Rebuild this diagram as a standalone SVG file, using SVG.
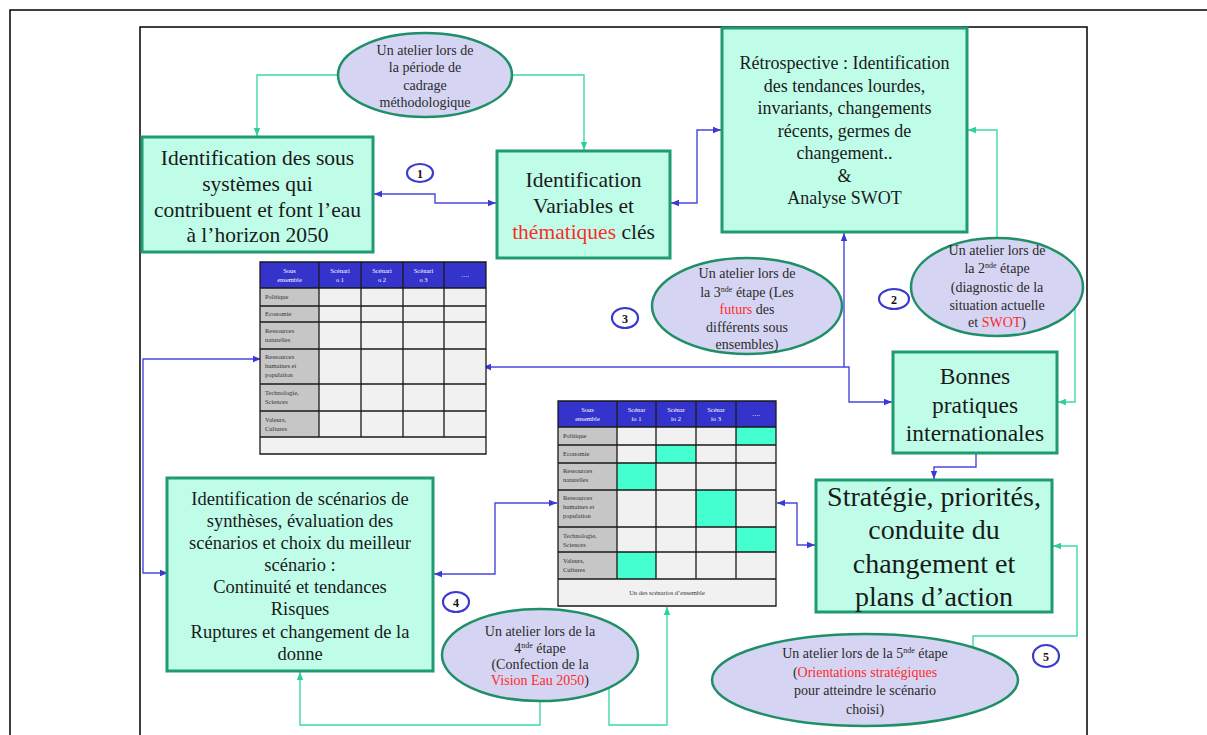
<svg xmlns="http://www.w3.org/2000/svg" width="1207" height="735" viewBox="0 0 1207 735">
  <style>
    .frame { fill: none; stroke: #000; stroke-width: 1.5; }
    .box { fill: #c0fde9; stroke: #1f9a72; stroke-width: 3; }
    .ell { fill: #d5d5f3; stroke: #1f8f68; stroke-width: 2.5; }
    .num { fill: #fff; stroke: #3a3ad0; stroke-width: 2.2; }
    .numt { font-family: "Liberation Serif", serif; font-size: 12px; font-weight: bold; fill: #111; text-anchor: middle; }
    .t { fill: none; stroke: #3fd9aa; stroke-width: 1.4; }
    .b { fill: none; stroke: #4848dd; stroke-width: 1.4; }
    .tx { font-family: "Liberation Serif", serif; fill: #1a1a1a; text-anchor: middle; }
    .et { font-family: "Liberation Serif", serif; fill: #2a2a2a; text-anchor: middle; font-size: 14px; }
    .red { fill: #ff2a2a; }
    .hd { fill: #3434cc; }
    .lab { fill: #c6c6c6; }
    .cell { fill: #f1f1f1; }
    .hi { fill: #44ffcf; }
    .grid { fill: none; stroke: #1a1a1a; stroke-width: 1.3; }
    .ht { font-family: "Liberation Serif", serif; font-size: 6.5px; fill: #fff; text-anchor: middle; }
    .rt { font-family: "Liberation Serif", serif; font-size: 6.5px; fill: #333; }
  </style>
  <defs>
    <marker id="ab" viewBox="0 0 10 10" refX="10" refY="5" markerWidth="8" markerHeight="8" markerUnits="userSpaceOnUse" orient="auto-start-reverse">
      <path d="M0,1 L10,5 L0,9 z" fill="#3a3ad0"/>
    </marker>
    <marker id="at" viewBox="0 0 10 10" refX="10" refY="5" markerWidth="8" markerHeight="8" markerUnits="userSpaceOnUse" orient="auto-start-reverse">
      <path d="M0,1 L10,5 L0,9 z" fill="#2fcf9c"/>
    </marker>
  </defs>

  <rect width="1207" height="735" fill="#fff"/>
  <!-- page frames -->
  <path class="frame" d="M10,740 V10 H1210"/>
  <path class="frame" d="M140,740 V27 H1087 V740"/>

  <!-- connectors -->
  <g id="connectors">
    <path class="t" d="M338,75 H257 V136" marker-end="url(#at)"/>
    <path class="t" d="M513,75 H584 V150" marker-end="url(#at)"/>
    <path class="t" d="M997,238 V130 H968" marker-end="url(#at)"/>
    <path class="t" d="M1075,308 V402 H1058" marker-end="url(#at)"/>
    <path class="t" d="M540,701 V725 H300 V672" marker-end="url(#at)"/>
    <path class="t" d="M609,689 V725 H667 V607" marker-end="url(#at)"/>
    <path class="t" d="M973,647 V636 H1077 V546 H1053" marker-end="url(#at)"/>

    <path class="b" d="M374,194 H435 V203 H496" marker-start="url(#ab)" marker-end="url(#ab)"/>
    <path class="b" d="M671,203 H697 V130 H721" marker-start="url(#ab)" marker-end="url(#ab)"/>
    <path class="b" d="M844,233 V367 H483" marker-start="url(#ab)" marker-end="url(#ab)"/>
    <path class="b" d="M844,367 H849 V402 H892" marker-end="url(#ab)"/>
    <path class="b" d="M168,573 H143 V359 H261" marker-start="url(#ab)" marker-end="url(#ab)"/>
    <path class="b" d="M434,574 H495 V503 H557" marker-start="url(#ab)" marker-end="url(#ab)"/>
    <path class="b" d="M777,503 H797 V545 H815" marker-start="url(#ab)" marker-end="url(#ab)"/>
    <path class="b" d="M976,454 V467 H934 V479" marker-end="url(#ab)"/>
  </g>

  <!-- workshop 1 -->
  <g id="atelier1">
    <ellipse class="ell" cx="425" cy="75" rx="87" ry="42"/>
    <text class="et" x="425" y="55">Un atelier lors de</text>
    <text class="et" x="425" y="72">la période de</text>
    <text class="et" x="425" y="90">cadrage</text>
    <text class="et" x="425" y="107">méthodologique</text>
  </g>

  <g id="sous-systemes">
    <rect class="box" x="142" y="137" width="231" height="115"/>
    <text class="tx" font-size="21.5" x="257.5" y="165">Identification des sous</text>
    <text class="tx" font-size="21.5" x="257.5" y="191">systèmes qui</text>
    <text class="tx" font-size="21.5" x="257.5" y="217">contribuent et font l’eau</text>
    <text class="tx" font-size="21.5" x="257.5" y="242">à l’horizon 2050</text>
  </g>

  <g id="variables">
    <rect class="box" x="497" y="151" width="173" height="107"/>
    <text class="tx" font-size="21.5" x="583.5" y="187">Identification</text>
    <text class="tx" font-size="21.5" x="583.5" y="213">Variables et</text>
    <text class="tx" font-size="21.5" x="583.5" y="239"><tspan class="red">thématiques</tspan> clés</text>
  </g>

  <g id="retrospective">
    <rect class="box" x="722" y="28" width="245" height="204"/>
    <text class="tx" font-size="18" x="844.5" y="69">Rétrospective : Identification</text>
    <text class="tx" font-size="18" x="844.5" y="91.5">des tendances lourdes,</text>
    <text class="tx" font-size="18" x="844.5" y="114">invariants, changements</text>
    <text class="tx" font-size="18" x="844.5" y="136.5">récents, germes de</text>
    <text class="tx" font-size="18" x="844.5" y="159">changement..</text>
    <text class="tx" font-size="18" x="844.5" y="181.5">&amp;</text>
    <text class="tx" font-size="18" x="844.5" y="204">Analyse SWOT</text>
  </g>

  <!-- step markers -->
  <g id="n1"><ellipse class="num" cx="420" cy="173" rx="13" ry="9"/><text class="numt" x="420" y="177.5">1</text></g>
  <g id="n2"><ellipse class="num" cx="894" cy="299" rx="15" ry="10"/><text class="numt" x="894" y="303.5">2</text></g>
  <g id="n3"><ellipse class="num" cx="625" cy="318" rx="13" ry="10"/><text class="numt" x="625" y="322.5">3</text></g>
  <g id="n4"><ellipse class="num" cx="456" cy="602" rx="13" ry="10"/><text class="numt" x="456" y="606.5">4</text></g>
  <g id="n5"><ellipse class="num" cx="1046" cy="656" rx="13" ry="11"/><text class="numt" x="1046" y="660.5">5</text></g>

  <g id="atelier2">
    <ellipse class="ell" cx="997" cy="287" rx="86" ry="49"/>
    <text class="et" x="997" y="255">Un atelier lors de</text>
    <text class="et" x="997" y="273">la 2<tspan font-size="8" dy="-5">nde</tspan><tspan dy="5"> étape</tspan></text>
    <text class="et" x="997" y="292">(diagnostic  de la</text>
    <text class="et" x="997" y="310">situation actuelle</text>
    <text class="et" x="997" y="327">et <tspan class="red">SWOT</tspan>)</text>
  </g>

  <g id="atelier3">
    <ellipse class="ell" cx="747" cy="306" rx="95" ry="48"/>
    <text class="et" x="747" y="278">Un atelier lors de</text>
    <text class="et" x="747" y="297">la 3<tspan font-size="8" dy="-5">nde</tspan><tspan dy="5"> étape (Les</tspan></text>
    <text class="et" x="747" y="314"><tspan class="red">futurs</tspan> des</text>
    <text class="et" x="747" y="332">différents sous</text>
    <text class="et" x="747" y="349">ensembles)</text>
  </g>

  <g id="bonnes-pratiques">
    <rect class="box" x="893" y="352" width="164" height="101"/>
    <text class="tx" font-size="23.5" x="975" y="384">Bonnes</text>
    <text class="tx" font-size="23.5" x="975" y="413">pratiques</text>
    <text class="tx" font-size="23.5" x="975" y="441">internationales</text>
  </g>

  <!-- scenario grid per sub-system -->
  <g id="tableau-scenarios">
    <rect class="hd" x="260" y="262" width="226" height="26"/>
    <rect class="lab" x="260" y="288" width="59" height="149"/>
    <rect class="cell" x="319" y="288" width="167" height="149"/>
    <rect class="cell" x="260" y="437" width="226" height="17"/>
    <path class="grid" d="M260,262 H486 V454 H260 Z M260,288 H486 M260,306 H486 M260,322 H486 M260,349 H486 M260,384 H486 M260,411 H486 M260,437 H486 M319,262 V437 M361,262 V437 M403,262 V437 M444,262 V437"/>
    <text class="ht" x="289.5" y="273">Sous</text><text class="ht" x="289.5" y="282">ensemble</text>
    <text class="ht" x="340" y="273">Scénari</text><text class="ht" x="340" y="282">o 1</text>
    <text class="ht" x="382" y="273">Scénari</text><text class="ht" x="382" y="282">o 2</text>
    <text class="ht" x="423.5" y="273">Scénari</text><text class="ht" x="423.5" y="282">o 3</text>
    <text class="ht" x="465" y="277">….</text>
    <text class="rt" x="265" y="299">Politique</text>
    <text class="rt" x="265" y="316">Economie</text>
    <text class="rt" x="265" y="333">Ressources</text><text class="rt" x="265" y="342">naturelles</text>
    <text class="rt" x="265" y="359">Ressources</text><text class="rt" x="265" y="368">humaines et</text><text class="rt" x="265" y="377">population</text>
    <text class="rt" x="265" y="395">Technologie,</text><text class="rt" x="265" y="404">Sciences</text>
    <text class="rt" x="265" y="422">Valeurs,</text><text class="rt" x="265" y="431">Cultures</text>
  </g>

  <!-- one overall scenario -->
  <g id="scenario-ensemble">
    <rect class="hd" x="558" y="401" width="218" height="26"/>
    <rect class="lab" x="558" y="427" width="59" height="152"/>
    <rect class="cell" x="617" y="427" width="159" height="152"/>
    <rect class="cell" x="558" y="579" width="218" height="27"/>
    <rect class="hi" x="736" y="427" width="40" height="18"/>
    <rect class="hi" x="656" y="445" width="40" height="18"/>
    <rect class="hi" x="617" y="463" width="39" height="27"/>
    <rect class="hi" x="696" y="490" width="40" height="37"/>
    <rect class="hi" x="736" y="527" width="40" height="25"/>
    <rect class="hi" x="617" y="552" width="39" height="27"/>
    <path class="grid" d="M558,401 H776 V606 H558 Z M558,427 H776 M558,445 H776 M558,463 H776 M558,490 H776 M558,527 H776 M558,552 H776 M558,579 H776 M617,401 V579 M656,401 V579 M696,401 V579 M736,401 V579"/>
    <text class="ht" x="587.5" y="412">Sous</text><text class="ht" x="587.5" y="421">ensemble</text>
    <text class="ht" x="636.5" y="412">Scénar</text><text class="ht" x="636.5" y="421">io 1</text>
    <text class="ht" x="676" y="412">Scénar</text><text class="ht" x="676" y="421">io 2</text>
    <text class="ht" x="716" y="412">Scénar</text><text class="ht" x="716" y="421">io 3</text>
    <text class="ht" x="756" y="416">….</text>
    <text class="rt" x="563" y="438">Politique</text>
    <text class="rt" x="563" y="456">Economie</text>
    <text class="rt" x="563" y="473">Ressources</text><text class="rt" x="563" y="482">naturelles</text>
    <text class="rt" x="563" y="500">Ressources</text><text class="rt" x="563" y="509">humaines et</text><text class="rt" x="563" y="518">population</text>
    <text class="rt" x="563" y="538">Technologie,</text><text class="rt" x="563" y="547">Sciences</text>
    <text class="rt" x="563" y="563">Valeurs,</text><text class="rt" x="563" y="572">Cultures</text>
    <text class="rt" x="667" y="595" text-anchor="middle">Un des scénarios d’ensemble</text>
  </g>

  <g id="synthese">
    <rect class="box" x="167" y="478" width="266" height="193"/>
    <text class="tx" font-size="18.5" x="300" y="505">Identification de scénarios de</text>
    <text class="tx" font-size="18.5" x="300" y="527">synthèses, évaluation des</text>
    <text class="tx" font-size="18.5" x="300" y="549">scénarios et choix du meilleur</text>
    <text class="tx" font-size="18.5" x="300" y="571">scénario :</text>
    <text class="tx" font-size="18.5" x="300" y="593">Continuité et tendances</text>
    <text class="tx" font-size="18.5" x="300" y="615">Risques</text>
    <text class="tx" font-size="18.5" x="300" y="638">Ruptures et changement de la</text>
    <text class="tx" font-size="18.5" x="300" y="660">donne</text>
  </g>

  <g id="atelier4">
    <ellipse class="ell" cx="540" cy="655" rx="98" ry="46"/>
    <text class="et" x="540" y="636">Un atelier lors de la</text>
    <text class="et" x="540" y="653">4<tspan font-size="8" dy="-5">nde</tspan><tspan dy="5"> étape</tspan></text>
    <text class="et" x="540" y="669">(Confection de la</text>
    <text class="et" x="540" y="685"><tspan class="red">Vision Eau 2050</tspan>)</text>
  </g>

  <g id="strategie">
    <rect class="box" x="816" y="480" width="236" height="132"/>
    <text class="tx" font-size="28" x="934" y="506">Stratégie, priorités,</text>
    <text class="tx" font-size="28" x="934" y="539">conduite du</text>
    <text class="tx" font-size="28" x="934" y="573">changement et</text>
    <text class="tx" font-size="28" x="934" y="606">plans d’action</text>
  </g>

  <g id="atelier5">
    <ellipse class="ell" cx="865" cy="680" rx="153" ry="46"/>
    <text class="et" font-size="14.5" x="865" y="658">Un atelier lors de la 5<tspan font-size="8" dy="-5">nde</tspan><tspan dy="5"> étape</tspan></text>
    <text class="et" font-size="14.5" x="865" y="677">(<tspan class="red">Orientations  stratégiques</tspan></text>
    <text class="et" font-size="14.5" x="865" y="695">pour atteindre le scénario</text>
    <text class="et" font-size="14.5" x="865" y="714">choisi)</text>
  </g>
</svg>
